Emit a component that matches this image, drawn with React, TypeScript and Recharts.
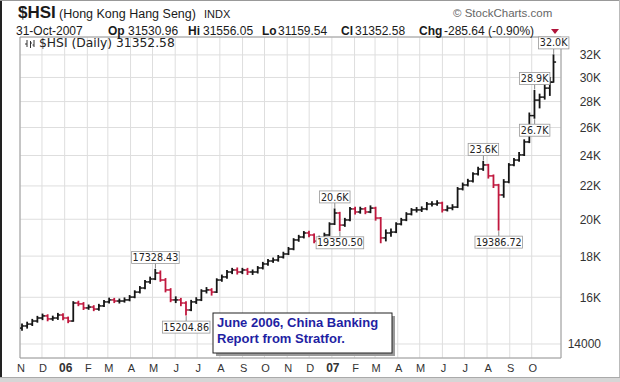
import React from 'react';
import { ComposedChart, Bar, XAxis, YAxis, CartesianGrid, ReferenceDot, ReferenceArea } from 'recharts';

// ---- calendar (weekly bars, Friday week-ending, last bar 31-Oct-2007) ----
const DAY = 86400000;
const FIRST_WEEK = Date.UTC(2005, 10, 4);
const weekDates: number[] = [
  ...Array.from({ length: 104 }, (_, i) => FIRST_WEEK + i * 7 * DAY),
  Date.UTC(2007, 9, 31),
];

// ---- OHLC values ----
const closePrices = [
  14740, 14820, 14950, 15080, 15170, 15040, 15080, 15210, 15080, 14950,
  15740, 15700, 15520, 15560, 15470, 15610, 15790, 15880, 15830, 15830,
  15880, 16010, 16240, 16430, 16720, 16860, 17150, 16810, 16340, 15880,
  15880, 15740, 15430, 15790, 15880, 16290, 16340, 16240, 16810, 16960,
  17200, 17300, 17200, 17300, 17200, 17200, 17400, 17600, 17750, 17800,
  17950, 18110, 18370, 18850, 19010, 19230, 19120, 18790, 18960, 19120,
  19730, 20360, 19670, 19960, 20600, 20420, 20600, 20420, 20650, 20070,
  18960, 19230, 19280, 19730, 19960, 20300, 20540, 20540, 20600, 20890,
  20890, 20950, 20540, 20650, 20710, 21810, 22060, 22310, 22770, 23090,
  23360, 22640, 22060, 21440, 22250, 23360, 23690, 24040, 24950, 26900,
  28120, 28360, 29100, 29600, 31352.58,
];
const openPrices = [
  14650, 14740, 14820, 14950, 15080, 15170, 15040, 15080, 15210, 15080,
  14950, 15740, 15700, 15520, 15560, 15470, 15610, 15790, 15880, 15830,
  15830, 15880, 16010, 16240, 16430, 16720, 16860, 17150, 16810, 16340,
  15880, 15880, 15740, 15430, 15790, 15880, 16290, 16340, 16240, 16810,
  16960, 17200, 17300, 17200, 17300, 17200, 17200, 17400, 17600, 17750,
  17800, 17950, 18110, 18370, 18850, 19010, 19230, 19120, 18790, 18960,
  19120, 19730, 20360, 19670, 19960, 20600, 20420, 20600, 20420, 20650,
  20070, 18960, 19230, 19280, 19730, 19960, 20300, 20540, 20540, 20600,
  20890, 20890, 20950, 20540, 20650, 20710, 21810, 22060, 22310, 22770,
  23090, 23360, 22640, 22060, 21440, 22250, 23360, 23690, 24040, 24950,
  26900, 28120, 28360, 29100, 29600,
];
const highPrices = [
  14820, 14900, 15020, 15150, 15250, 15220, 15160, 15280, 15260, 15120,
  15800, 15820, 15760, 15650, 15620, 15680, 15850, 15960, 15950, 15920,
  15970, 16080, 16300, 16500, 16790, 16950, 17328.43, 17250, 16880, 16400,
  16020, 15950, 15800, 15860, 15980, 16350, 16450, 16400, 16870, 17050,
  17280, 17380, 17400, 17380, 17380, 17300, 17470, 17680, 17820, 17900,
  18030, 18200, 18450, 18920, 19100, 19310, 19330, 19180, 19050, 19220,
  19800, 20600, 20400, 20050, 20680, 20700, 20700, 20680, 20780, 20700,
  20100, 19400, 19450, 19800, 20050, 20380, 20620, 20680, 20720, 20980,
  21020, 21080, 21000, 20780, 20850, 21900, 22180, 22420, 22850, 23200,
  23600, 23400, 22700, 22100, 22400, 23450, 23800, 24200, 25100, 27100,
  28900, 28600, 29400, 30000, 32000,
];
const lowPrices = [
  14560, 14650, 14760, 14900, 15010, 14960, 14980, 15020, 15000, 14880,
  14940, 15620, 15450, 15460, 15400, 15420, 15580, 15740, 15760, 15740,
  15780, 15840, 15980, 16200, 16400, 16650, 16830, 16750, 16250, 15800,
  15760, 15620, 15204.86, 15400, 15720, 15850, 16200, 16100, 16220, 16750,
  16900, 17120, 17100, 17120, 17080, 17080, 17150, 17350, 17540, 17680,
  17740, 17900, 18080, 18330, 18780, 18960, 19030, 18700, 18720, 18900,
  19100, 19700, 19350.5, 19600, 19920, 20300, 20350, 20320, 20380, 19950,
  18700, 18800, 19050, 19250, 19680, 19920, 20250, 20420, 20450, 20550,
  20780, 20820, 20420, 20480, 20550, 20680, 21750, 22000, 22250, 22700,
  23000, 22500, 21900, 19386.72, 21300, 22200, 23300, 23600, 24000, 24900,
  26700, 27500, 28200, 28500, 29600,
];

// ---- axes ----
const monthStarts: number[] = Array.from({ length: 24 }, (_, i) => Date.UTC(2005, 10 + i, 1));
const monthLabels = ['N', 'D', '06', 'F', 'M', 'A', 'M', 'J', 'J', 'A', 'S', 'O',
  'N', 'D', '07', 'F', 'M', 'A', 'M', 'J', 'J', 'A', 'S', 'O'];
const yTicks = [14000, 16000, 18000, 20000, 22000, 24000, 26000, 28000, 30000, 32000];
const yTickLabels = ['14000', '16K', '18K', '20K', '22K', '24K', '26K', '28K', '30K', '32K'];
const X_DOMAIN: [number, number] = [Date.UTC(2005, 10, 1), Date.UTC(2007, 10, 10)];
const Y_DOMAIN: [number, number] = [13450, 33680];

// ---- price annotations ----
const annWeek = [26, 32, 61, 62, 90, 93, 100, 100, 104];
const annValue = [17328.43, 15204.86, 20600, 19350.5, 23600, 19386.72, 26700, 28900, 32000];
const annText = ['17328.43', '15204.86', '20.6K', '19350.50', '23.6K', '19386.72', '26.7K', '28.9K', '32.0K'];
const annSide = ['above', 'below', 'above', 'below', 'above', 'below', 'below', 'above', 'above'];

const data = weekDates.map((t, i) => ({
  t,
  open: openPrices[i],
  high: highPrices[i],
  low: lowPrices[i],
  close: closePrices[i],
  range: [lowPrices[i], highPrices[i]],
  up: closePrices[i] >= (i === 0 ? openPrices[0] : closePrices[i - 1]),
}));

const FONT = '"Liberation Sans", Arial, sans-serif';
const LABEL_FONT = '"DejaVu Sans", Verdana, sans-serif';

function OhlcBar(props: any) {
  const { x, y, width, height, payload } = props;
  if (x == null || y == null || !payload) return null;
  const top = Math.min(y, y + height);
  const bottom = Math.max(y, y + height);
  const cx = x + width / 2;
  const lh = Math.log(payload.high);
  const ll = Math.log(payload.low);
  const span = lh - ll || 1;
  const toY = (v: number) => top + ((bottom - top) * (lh - Math.log(v))) / span;
  const color = payload.up ? '#151515' : '#c0183e';
  const yo = toY(payload.open);
  const yc = toY(payload.close);
  return (
    <g stroke={color}>
      <line x1={cx} x2={cx} y1={top - 0.5} y2={bottom + 0.5} strokeWidth={1.8} />
      <line x1={cx - 2.6} x2={cx} y1={yo} y2={yo} strokeWidth={1.5} />
      <line x1={cx} x2={cx + 2.6} y1={yc} y2={yc} strokeWidth={1.5} />
    </g>
  );
}

function makeAnnShape(text: string, side: string) {
  return (props: any) => {
    const { cx, cy } = props;
    if (cx == null || cy == null) return null;
    const w = text.length * 5.7 + 2;
    const h = 12;
    const gap = 6;
    const boxY = side === 'above' ? cy - gap - h : cy + gap;
    const lineY1 = side === 'above' ? cy - 1 : cy + 1;
    const lineY2 = side === 'above' ? cy - gap : cy + gap;
    return (
      <g>
        <line x1={cx} x2={cx} y1={lineY1} y2={lineY2} stroke="#888" strokeWidth={1} />
        <rect x={cx - w / 2} y={boxY} width={w} height={h} fill="#fff" stroke="#9a9a9a" strokeWidth={0.8} />
        <text x={cx} y={boxY + 9.6} textAnchor="middle" fontFamily={LABEL_FONT} fontSize={9.6} fill="#222">
          {text}
        </text>
      </g>
    );
  };
}

const XTick = (props: any) => {
  const { x, payload } = props;
  const idx = monthStarts.indexOf(payload.value);
  const label = idx >= 0 ? monthLabels[idx] : '';
  const isYear = label === '06' || label === '07';
  return (
    <text x={x + 1} y={372} textAnchor="middle" fontFamily={FONT}
      fontSize={isYear ? 12 : 11} fontWeight={isYear ? 'bold' : 'normal'} fill="#333">
      {label}
    </text>
  );
};

const YTick = (props: any) => {
  const { y, payload } = props;
  const idx = yTicks.indexOf(payload.value);
  return (
    <text x={601} y={y + 4.5} textAnchor="end" fontFamily={FONT} fontSize={12} fill="#333">
      {idx >= 0 ? yTickLabels[idx] : ''}
    </text>
  );
};

export default function App() {
  return (
    <div style={{ position: 'absolute', left: 0, top: 0, width: 620, height: 382, background: '#fff', overflow: 'hidden' }}>
      <ComposedChart width={620} height={382} data={data} margin={{ top: 37, right: 0, bottom: 0, left: 20 }}>
        <CartesianGrid stroke="#dedede" strokeWidth={1} />
        <XAxis dataKey="t" type="number" domain={X_DOMAIN} ticks={monthStarts} interval={0}
          allowDataOverflow height={24} axisLine={false} tickLine={false} tick={XTick} />
        <YAxis orientation="right" scale="log" domain={Y_DOMAIN} ticks={yTicks} interval={0}
          allowDataOverflow width={59} axisLine={false} tickLine={false} tick={YTick} />
        <ReferenceArea x1={X_DOMAIN[0]} x2={X_DOMAIN[1]} y1={Y_DOMAIN[0]} y2={Y_DOMAIN[1]}
          fill="none" fillOpacity={0} stroke="#9c9c9c" strokeWidth={1} />
        <Bar dataKey="range" barSize={5} shape={OhlcBar} isAnimationActive={false} />
        {annWeek.map((w, i) => (
          <ReferenceDot key={i} x={weekDates[w]} y={annValue[i]} r={0}
            shape={makeAnnShape(annText[i], annSide[i])} ifOverflow="visible" />
        ))}
      </ComposedChart>

      <svg width={620} height={382} style={{ position: 'absolute', left: 0, top: 0, pointerEvents: 'none' }}>
        {/* frame */}
        <rect x={0} y={0} width={2} height={382} fill="#222" />
        <line x1={0} x2={620} y1={0.5} y2={0.5} stroke="#999" />
        <line x1={619.5} x2={619.5} y1={0} y2={382} stroke="#bbb" />
        <rect x={0} y={377} width={620} height={5} fill="#d6d6d6" />
        <line x1={0} x2={620} y1={377.5} y2={377.5} stroke="#aaa" />

        {/* header */}
        <text x={18} y={18} fontFamily={FONT} fontSize={17} fontWeight="bold" fill="#1a1a1a">$HSI</text>
        <text x={59} y={18} fontFamily={FONT} fontSize={12.5} fill="#1a1a1a">(Hong Kong Hang Seng)</text>
        <text x={204} y={18} fontFamily={FONT} fontSize={11} fill="#1a1a1a">INDX</text>
        <text x={453} y={17} fontFamily={FONT} fontSize={11.5} fill="#666">© StockCharts.com</text>

        <g fontFamily={FONT} fontSize={12} fill="#1a1a1a">
          <text x={16} y={34.5}>31-Oct-2007</text>
          <text x={108} y={34.5} fontWeight="bold">Op</text>
          <text x={128} y={34.5}>31530.96</text>
          <text x={188} y={34.5} fontWeight="bold">Hi</text>
          <text x={203} y={34.5}>31556.05</text>
          <text x={262} y={34.5} fontWeight="bold">Lo</text>
          <text x={278} y={34.5}>31159.54</text>
          <text x={341} y={34.5} fontWeight="bold">Cl</text>
          <text x={355} y={34.5}>31352.58</text>
          <text x={419} y={34.5} fontWeight="bold">Chg</text>
          <text x={444} y={34.5}>-285.64 (-0.90%)</text>
        </g>
        <path d="M551,29 L559,29 L555,34 Z" fill="#b0143a" />

        {/* legend inside plot */}
        <g stroke="#333" strokeWidth={1}>
          <line x1={27} x2={27} y1={40} y2={47} />
          <line x1={25} x2={27} y1={44} y2={44} />
          <line x1={30.5} x2={30.5} y1={41} y2={48} />
          <line x1={30.5} x2={32} y1={43} y2={43} />
          <line x1={34} x2={34} y1={40} y2={47} />
          <line x1={32.5} x2={34} y1={45} y2={45} />
        </g>
        <text x={39} y={47} fontFamily={LABEL_FONT} fontSize={12.3} fill="#222">$HSI (Daily) 31352.58</text>

        {/* note box */}
        <rect x={216} y={316} width={179} height={40} fill="#9a9a9a" />
        <rect x={213} y={313} width={179} height={40} fill="#fff" stroke="#222" strokeWidth={1} />
        <text x={217} y={327} fontFamily={FONT} fontSize={13} fontWeight="bold" fill="#1f1fa3">June 2006, China Banking</text>
        <text x={217} y={343} fontFamily={FONT} fontSize={13} fontWeight="bold" fill="#1f1fa3">Report from Stratfor.</text>
      </svg>
    </div>
  );
}
